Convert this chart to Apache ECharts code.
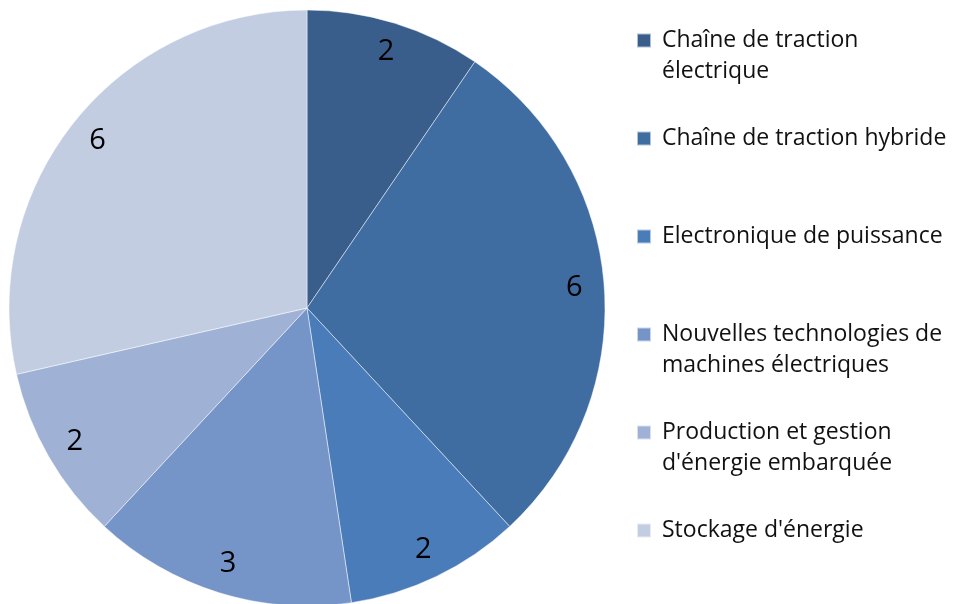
<!DOCTYPE html>
<html>
<head>
<meta charset="utf-8">
<script src="https://cdn.jsdelivr.net/npm/echarts@6/dist/echarts.min.js"></script>
<style>html,body{margin:0;padding:0;background:#fff;}#chart{width:955px;height:604px;}</style>
</head>
<body>
<div id="chart"></div>
<script>
const categories = [
  'Chaîne de traction\nélectrique',
  'Chaîne de traction hybride',
  'Electronique de puissance',
  'Nouvelles technologies de\nmachines électriques',
  'Production et gestion\nd\'énergie embarquée',
  'Stockage d\'énergie'
];
const values = [2, 6, 2, 3, 2, 6];
const colors = ['#395e8b', '#3f6ca1', '#4a7cba', '#7595c8', '#9fb2d6', '#c3cde2'];

const data = categories.map((c, i) => ({ name: c, value: values[i], itemStyle: { color: colors[i] } }));
const cx = 307, cy = 308, R = 298, L = 31;

const chart = echarts.init(document.getElementById('chart'), null, { renderer: 'canvas' });
chart.setOption({
  backgroundColor: '#ffffff',
  animation: false,
  legend: {
    orient: 'vertical',
    left: 636,
    top: -6,
    padding: 0,
    itemGap: 5,
    itemWidth: 14,
    itemHeight: 14,
    icon: 'rect',
    data: categories,
    formatter: function (name) {
      // keep the first text line level with the colour square
      return name.indexOf('\n') >= 0 ? ' \n' + name : ' \n' + name + '\n ';
    },
    textStyle: {
      fontFamily: 'Open Sans',
      fontSize: 23,
      color: '#111',
      lineHeight: L,
      padding: [0, 0, 0, 6]
    }
  },
  series: [
    {
      type: 'pie',
      center: [cx, cy],
      radius: [0, R],
      startAngle: 90,
      clockwise: true,
      silent: true,
      data: data,
      itemStyle: { borderColor: 'rgba(255,255,255,0.6)', borderWidth: 0.8 },
      label: { show: false },
      labelLine: { show: false }
    },
    {
      type: 'pie',
      center: [cx, cy],
      radius: [232, R],
      startAngle: 90,
      clockwise: true,
      silent: true,
      legendHoverLink: false,
      data: categories.map((c, i) => ({ name: c, value: values[i] })),
      itemStyle: { color: 'rgba(0,0,0,0)', borderWidth: 0 },
      label: {
        show: true,
        position: 'inside',
        formatter: '{c}',
        fontFamily: 'Open Sans',
        fontSize: 29,
        color: '#000'
      },
      labelLine: { show: false },
      tooltip: { show: false }
    }
  ]
});
</script>
</body>
</html>
